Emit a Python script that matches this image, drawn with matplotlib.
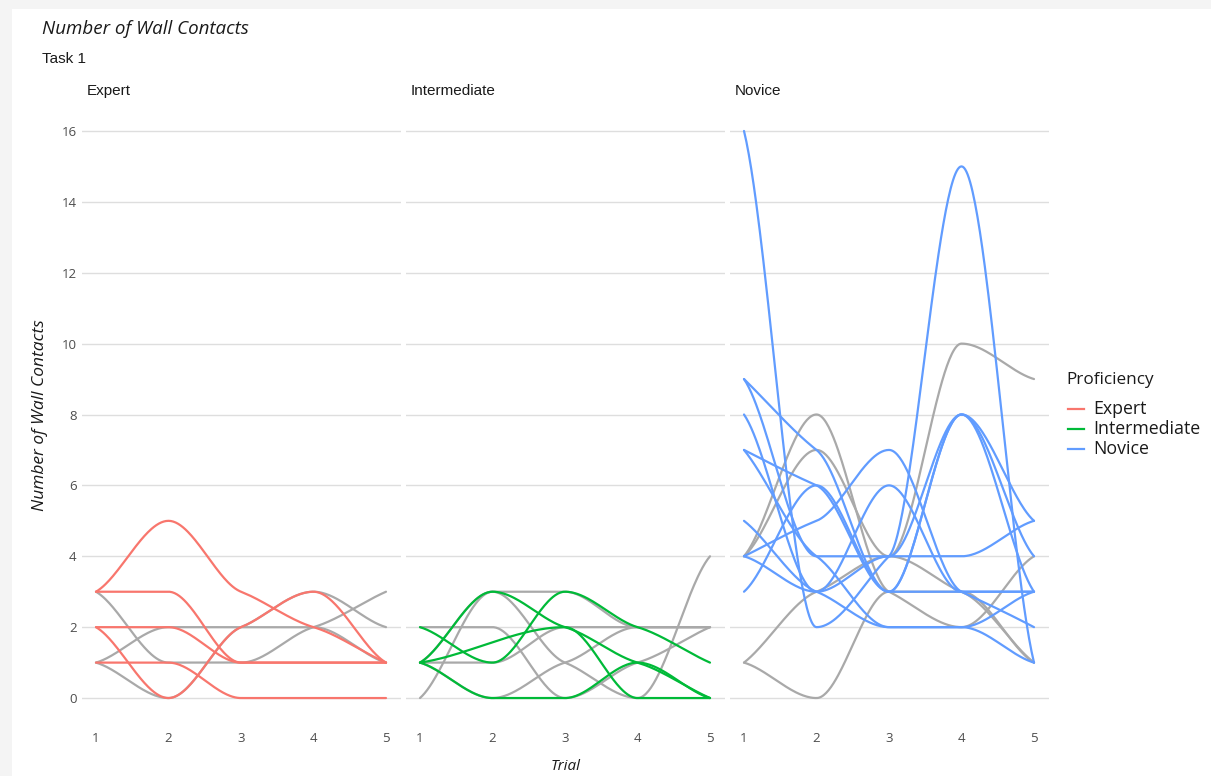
import numpy as np
import matplotlib
matplotlib.use("Agg")
import matplotlib.pyplot as plt
from matplotlib.lines import Line2D
from matplotlib.patches import Rectangle

# ---------------- data ----------------
trials = [1, 2, 3, 4, 5]
facets = ["Expert", "Intermediate", "Novice"]
colors = {"Expert": "#F8766D", "Intermediate": "#00BA38", "Novice": "#619CFF"}
gray = "#A9A9A9"

expert_main = [
    [3, 5, 3, 2, 1],
    [3, 3, 1, 1, 1],
    [2, 2, 1, 1, 1],
    [2, 0, 2, 3, 1],
    [1, 1, 0, 0, 0],
]
expert_other = [
    [3, 1, 1, 2, 3],
    [1, 2, 2, 2, 1],
    [1, 0, 2, 3, 2],
]

intermediate_main = [
    [2, 1, 3, 2, 1],
    [1, 3, 2, 1, 0],
    [1, 0, 0, 1, 0],
    [1, np.nan, 2, 0, 0],
]
intermediate_other = [
    [0, 3, 3, 2, 2],
    [2, 2, 0, 1, 2],
    [1, 1, 2, 2, 2],
    [1, 0, 1, 2, 2],
    [1, 3, 1, 0, 4],
]

novice_main = [
    [16, 2, 4, 15, 1],
    [9, 7, 3, 8, 5],
    [9, 4, 4, 8, 4],
    [8, 3, 6, 3, 3],
    [7, 6, 3, 8, 3],
    [7, 4, 2, 2, 3],
    [5, 3, 2, 2, 1],
    [4, 5, 7, 3, 2],
    [4, 3, 4, 4, 5],
    [3, 6, 3, 3, 3],
]
novice_other = [
    [4, 8, 3, 2, 4],
    [4, 7, 4, 10, 9],
    [1, 0, 3, 3, 1],
    [1, 3, 4, 3, 1],
]

panel_main = {"Expert": expert_main, "Intermediate": intermediate_main, "Novice": novice_main}
panel_other = {"Expert": expert_other, "Intermediate": intermediate_other, "Novice": novice_other}

y_ticks = [0, 2, 4, 6, 8, 10, 12, 14, 16]


# ---------------- smooth interpolating curve (cubic Hermite) ----------------
def smooth_curve(xs, ys, k_int=0.6, k_end=0.6, n=60):
    xs = np.asarray(xs, float)
    ys = np.asarray(ys, float)
    ok = ~np.isnan(ys)
    x, y = xs[ok], ys[ok]
    m = len(x)
    h = np.diff(x)
    d = np.diff(y) / h
    tan = np.zeros(m)
    for i in range(1, m - 1):
        if d[i - 1] * d[i] > 0:
            w1 = 2 * h[i] + h[i - 1]
            w2 = h[i] + 2 * h[i - 1]
            tan[i] = k_int * (w1 + w2) / (w1 / d[i - 1] + w2 / d[i])
    if m > 2:
        tan[0] = k_end * d[0] + 0.5 * tan[1]
        tan[-1] = k_end * d[-1] + 0.5 * tan[-2]
    else:
        tan[0] = tan[-1] = d[0]
    cx, cy = [], []
    for i in range(m - 1):
        t = np.linspace(0, 1, n, endpoint=(i == m - 2))
        h00 = 2 * t ** 3 - 3 * t ** 2 + 1
        h10 = t ** 3 - 2 * t ** 2 + t
        h01 = -2 * t ** 3 + 3 * t ** 2
        h11 = t ** 3 - t ** 2
        cx.append(x[i] + t * h[i])
        cy.append(h00 * y[i] + h10 * h[i] * tan[i] + h01 * y[i + 1] + h11 * h[i] * tan[i + 1])
    return np.concatenate(cx), np.concatenate(cy)


# ---------------- figure ----------------
W, H = 1211, 776
fig = plt.figure(figsize=(W / 100, H / 100), dpi=100)
fig.patch.set_facecolor("#f4f4f4")
fig.add_artist(Rectangle((12 / W, 0), 1 - 12 / W, 1 - 9 / H, transform=fig.transFigure,
                         facecolor="white", edgecolor="none", zorder=0))


def fx(x):
    return x / W


def fy(y):
    return 1 - y / H


bottom, top = 726.4, 102.6
lefts = [81.5, 405.5, 729.5]
pw = 319.0

tick_font = "Open Sans"
label_font = "Liberation Sans"

for i, name in enumerate(facets):
    ax = fig.add_axes([fx(lefts[i]), fy(bottom), pw / W, (bottom - top) / H])
    ax.set_facecolor("none")
    ax.set_xlim(0.8, 5.2)
    ax.set_ylim(-0.8, 16.8)
    for sp in ax.spines.values():
        sp.set_visible(False)
    ax.set_yticks(y_ticks)
    ax.set_xticks(trials)
    ax.grid(axis="y", color="#dedede", linewidth=1.0)
    ax.grid(axis="x", visible=False)
    ax.set_axisbelow(True)
    ax.tick_params(length=0, labelsize=9.5, labelcolor="#4d4d4d")
    ax.tick_params(axis="x", pad=4)
    ax.tick_params(axis="y", pad=3.5)
    for lab in ax.get_xticklabels() + ax.get_yticklabels():
        lab.set_fontfamily(tick_font)
    if i > 0:
        ax.set_yticklabels([])

    for row in panel_other[name]:
        cx, cy = smooth_curve(trials, row)
        ax.plot(cx, cy, color=gray, linewidth=1.6, solid_capstyle="round", zorder=2)
    for row in panel_main[name]:
        cx, cy = smooth_curve(trials, row)
        ax.plot(cx, cy, color=colors[name], linewidth=1.6, solid_capstyle="round", zorder=3)

    fig.text(fx(lefts[i] + 5.5), fy(91), name, fontsize=11, family=label_font,
             color="#1a1a1a", ha="left", va="center")

# titles
fig.text(fx(42), fy(29), "Number of Wall Contacts", fontsize=13.5, style="italic",
         family=tick_font, color="#1a1a1a", ha="left", va="center")
fig.text(fx(42), fy(59), "Task 1", fontsize=11, family=label_font,
         color="#1a1a1a", ha="left", va="center")
fig.text(fx(40), fy(415), "Number of Wall Contacts", fontsize=12.5, style="italic",
         family=tick_font, color="#1a1a1a", ha="center", va="center", rotation=90)
fig.text(fx(566), fy(767), "Trial", fontsize=11, style="italic",
         family=tick_font, color="#1a1a1a", ha="center", va="center")

# legend
fig.text(fx(1066), fy(380), "Proficiency", fontsize=12.3, family=tick_font,
         color="#1a1a1a", ha="left", va="center")
for j, name in enumerate(facets):
    yy = 409 + 20 * j
    fig.add_artist(Line2D([fx(1068), fx(1084)], [fy(yy), fy(yy)], color=colors[name],
                          linewidth=1.6, transform=fig.transFigure))
    fig.text(fx(1093), fy(yy), name, fontsize=12.8, family=tick_font,
             color="#1a1a1a", ha="left", va="center")

fig.savefig("out.png", dpi=100, facecolor=fig.get_facecolor())
